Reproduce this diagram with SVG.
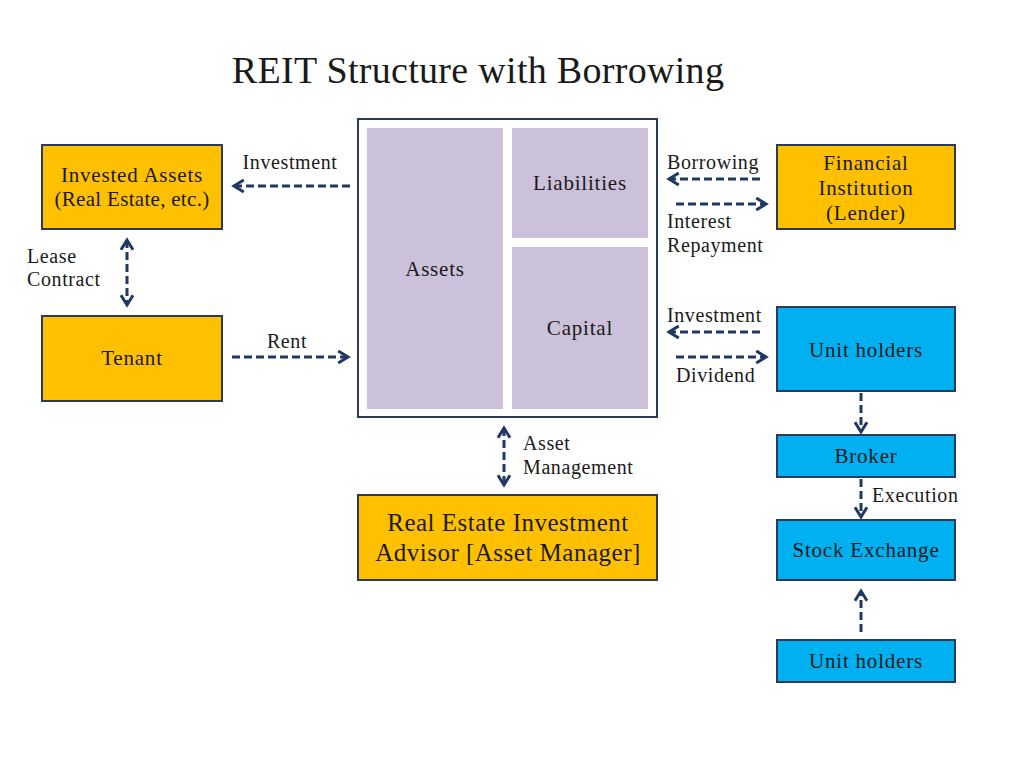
<svg xmlns="http://www.w3.org/2000/svg" width="1024" height="768" viewBox="0 0 1024 768">
<defs>
<style>
text{font-family:"Liberation Serif","DejaVu Serif",serif;fill:#1a1a1a}
.n{font-size:21px;letter-spacing:0.8px;text-anchor:middle}
.l{font-size:20px;letter-spacing:0.6px}
.lc{font-size:20px;letter-spacing:0.6px;text-anchor:middle}
.or{fill:#FFC000;stroke:#2B3A55;stroke-width:2}
.bl{fill:#00B0F0;stroke:#2B3A55;stroke-width:2}
.pu{fill:#CCC1DA}
.c{fill:none;stroke:#1F3864;stroke-width:3;stroke-dasharray:8 4}
</style>
<marker id="ah" viewBox="0 0 10 10" refX="8" refY="5" markerWidth="5" markerHeight="5" orient="auto-start-reverse" markerUnits="strokeWidth">
<path d="M1.5,1 L8,5 L1.5,9" fill="none" stroke="#1F3864" stroke-width="2"/>
</marker>
</defs>
<rect width="1024" height="768" fill="#fff"/>
<text x="478" y="83" style="font-size:38px;letter-spacing:0.3px;text-anchor:middle">REIT Structure with Borrowing</text>

<g id="invested-assets"><rect class="or" x="42" y="145" width="180" height="84"/><text class="n" x="132" y="182">Invested Assets</text><text class="n" x="132" y="206" style="letter-spacing:0.3px">(Real Estate, etc.)</text></g>
<g id="tenant"><rect class="or" x="42" y="316" width="180" height="85"/><text class="n" x="132" y="365">Tenant</text></g>
<g id="reit"><rect x="358" y="119" width="299" height="298" fill="#fff" stroke="#2B3A55" stroke-width="2"/>
<rect class="pu" x="367" y="128" width="136" height="281"/><text class="n" x="435" y="276">Assets</text>
<rect class="pu" x="512" y="128" width="136" height="110"/><text class="n" x="580" y="190">Liabilities</text>
<rect class="pu" x="512" y="247" width="136" height="162"/><text class="n" x="580" y="335">Capital</text></g>
<g id="financial-institution"><rect class="or" x="777" y="145" width="178" height="84"/><text class="n" x="866" y="170">Financial</text><text class="n" x="866" y="195">Institution</text><text class="n" x="866" y="220">(Lender)</text></g>
<g id="unit-holders"><rect class="bl" x="777" y="307" width="178" height="84"/><text class="n" x="866" y="357">Unit holders</text></g>
<g id="broker"><rect class="bl" x="777" y="435" width="178" height="42"/><text class="n" x="866" y="463">Broker</text></g>
<g id="stock-exchange"><rect class="bl" x="777" y="520" width="178" height="60"/><text class="n" x="866" y="557">Stock Exchange</text></g>
<g id="unit-holders-2"><rect class="bl" x="777" y="640" width="178" height="42"/><text class="n" x="866" y="668">Unit holders</text></g>
<g id="advisor"><rect class="or" x="358" y="495" width="299" height="85"/><text class="n" x="508" y="531" style="font-size:25px;letter-spacing:0.5px">Real Estate Investment</text><text class="n" x="508" y="561" style="font-size:25px;letter-spacing:0.5px">Advisor [Asset Manager]</text></g>

<g id="connectors">
<path class="c" d="M350,186H234" marker-end="url(#ah)"/>
<path class="c" d="M127,240V305" marker-start="url(#ah)" marker-end="url(#ah)"/>
<path class="c" d="M232,357H348" marker-end="url(#ah)"/>
<path class="c" d="M760,179H669" marker-end="url(#ah)"/>
<path class="c" d="M676,204H766" marker-end="url(#ah)"/>
<path class="c" d="M760,332H669" marker-end="url(#ah)"/>
<path class="c" d="M676,357H766" marker-end="url(#ah)"/>
<path class="c" d="M504,428V485" marker-start="url(#ah)" marker-end="url(#ah)"/>
<path class="c" d="M861,393V432" marker-end="url(#ah)"/>
<path class="c" d="M861,479V517" marker-end="url(#ah)"/>
<path class="c" d="M861,632V591" marker-end="url(#ah)"/>
<text class="lc" x="290" y="169">Investment</text>
<text class="l" x="27" y="263">Lease</text><text class="l" x="27" y="286">Contract</text>
<text class="lc" x="287" y="348">Rent</text>
<text class="l" x="667" y="169">Borrowing</text>
<text class="l" x="667" y="228">Interest</text><text class="l" x="667" y="252">Repayment</text>
<text class="l" x="667" y="322">Investment</text>
<text class="l" x="676" y="382">Dividend</text>
<text class="l" x="523" y="450">Asset</text><text class="l" x="523" y="474">Management</text>
<text class="l" x="872" y="502">Execution</text>
</g>
</svg>
